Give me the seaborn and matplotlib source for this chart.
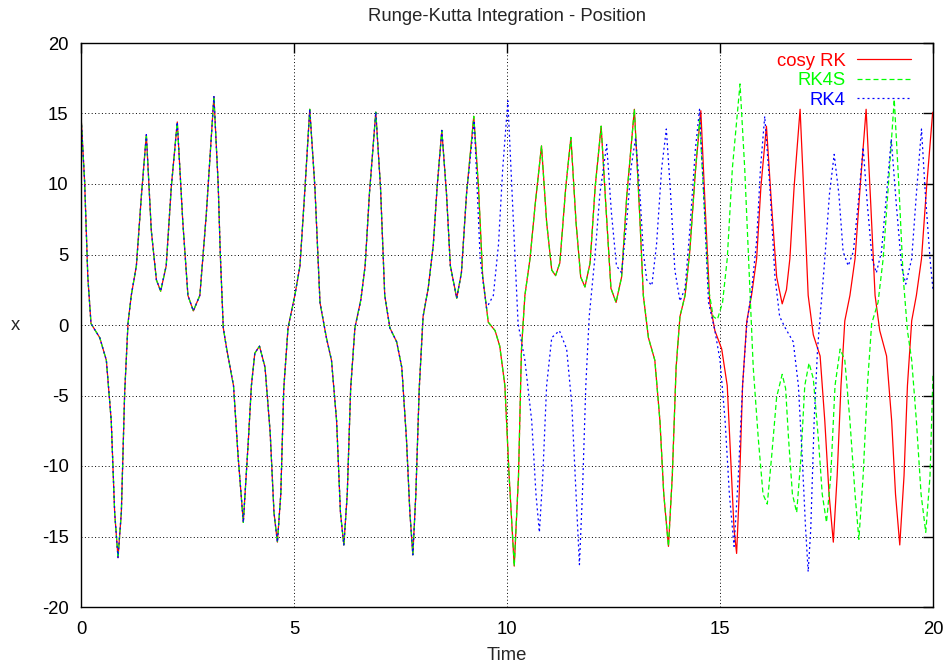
import os

os.environ.setdefault("MPLCONFIGDIR", "/tmp/matplotlib")

import numpy as np
import pandas as pd
import matplotlib

matplotlib.use("Agg")
import matplotlib.pyplot as plt
import seaborn as sns

# values (time, x)
# part shared by all three integrators
t_common = [0.0, 0.086, 0.16, 0.235, 0.44, 0.595, 0.71, 0.79, 0.869, 0.947, 1.025,
            1.103, 1.18, 1.30, 1.416, 1.534, 1.65, 1.77, 1.87, 2.0, 2.12, 2.26, 2.39,
            2.51, 2.637, 2.79, 2.94, 3.12, 3.22, 3.27, 3.34, 3.42, 3.58, 3.69, 3.81,
            3.93, 4.0, 4.08, 4.19, 4.32, 4.44, 4.53, 4.61, 4.69, 4.76, 4.86, 5.02,
            5.14, 5.26, 5.37, 5.49, 5.61, 5.76, 5.88, 6.0, 6.09, 6.17, 6.25, 6.33,
            6.43, 6.57, 6.67, 6.77, 6.92, 7.03, 7.13, 7.25, 7.41, 7.53, 7.64, 7.72,
            7.79, 7.86, 7.94, 8.03, 8.15, 8.27, 8.36, 8.47, 8.58, 8.67, 8.82, 8.93,
            9.05]
x_common = [14.9, 10.1, 3.4, 0.1, -0.9, -2.5, -6.8, -13.3, -16.5, -13.3, -4.8,
            0.1, 2.1, 4.2, 9.1, 13.5, 6.7, 3.2, 2.4, 4.2, 9.8, 14.4, 7.3,
            2.1, 1.0, 2.1, 7.8, 16.2, 10.0, 5.0, -0.2, -1.7, -4.3, -9.4, -14.0,
            -8.1, -4.3, -2.0, -1.5, -3.0, -7.6, -13.3, -15.4, -12.0, -4.5, -0.2, 2.1,
            4.2, 9.8, 15.3, 9.8, 1.6, -0.9, -2.5, -6.8, -13.3, -15.6, -12.0, -4.5,
            -0.2, 1.8, 4.2, 9.3, 15.1, 9.8, 2.1, -0.2, -1.2, -3.0, -8.1, -13.3,
            -16.3, -12.0, -4.5, 0.6, 2.6, 5.7, 9.8, 13.8, 9.3, 4.2, 1.9, 3.7,
            9.3]

# cosy RK and RK4S still agree here
t_mid = [9.22, 9.33, 9.43, 9.56, 9.72, 9.83, 9.95, 10.05, 10.17, 10.27, 10.34,
         10.42, 10.54, 10.66, 10.81, 10.93, 11.05, 11.14, 11.24, 11.38, 11.50,
         11.62, 11.73, 11.83, 11.95, 12.07, 12.21, 12.32, 12.44, 12.56, 12.69,
         12.81, 12.99, 13.12, 13.20, 13.32, 13.47, 13.59, 13.68, 13.79, 13.88,
         13.97, 14.06, 14.18, 14.29, 14.42]
x_mid = [14.8, 9.8, 3.4, 0.2, -0.4, -1.5, -4.3, -10.7, -17.1, -10.7, -1.7,
         2.1, 4.7, 8.5, 12.7, 7.3, 3.9, 3.5, 4.4, 9.8, 13.3,
         7.3, 3.4, 2.7, 4.4, 9.8, 14.1, 8.5, 2.6, 1.6, 3.4,
         9.1, 15.3, 7.5, 2.1, -0.9, -2.5, -6.8, -12.0, -15.7, -10.7,
         -3.0, 0.6, 2.1, 5.2, 10.8]

t_rk_tail = [14.55, 14.65, 14.76, 14.88, 15.04, 15.17, 15.25, 15.33, 15.39, 15.45,
             15.53, 15.63, 15.74, 15.86, 15.96, 16.09, 16.21, 16.33, 16.46, 16.56,
             16.64, 16.74, 16.88, 16.98, 17.07, 17.19, 17.35, 17.46, 17.56, 17.66,
             17.75, 17.84, 17.93, 18.05, 18.17, 18.29, 18.43, 18.54, 18.64, 18.75,
             18.91, 19.03, 19.12, 19.22, 19.32, 19.40, 19.50, 19.61, 19.73, 19.85,
             19.99, 20.0]
x_rk_tail = [15.2, 8.5, 1.6, -0.4, -1.7, -4.3, -9.4, -14.5, -16.2, -12.0,
             -4.3, 0.3, 2.1, 4.7, 9.8, 14.1, 8.5, 3.4, 1.5, 2.5,
             4.7, 9.8, 15.3, 8.5, 2.1, -0.7, -2.2, -6.8, -12.0, -15.4,
             -10.7, -4.3, 0.3, 2.1, 4.7, 9.8, 15.3, 8.5, 2.1, -0.4,
             -2.2, -6.8, -12.0, -15.6, -10.7, -4.3, 0.3, 2.1, 4.7, 9.8,
             15.0, 15.1]

t_rk4s_tail = [14.52, 14.63, 14.73, 14.84, 14.94, 15.06, 15.17, 15.29, 15.47, 15.58,
               15.69, 15.78, 15.90, 16.01, 16.11, 16.21, 16.33, 16.46, 16.54, 16.61,
               16.70, 16.80, 16.90, 16.99, 17.09, 17.19, 17.31, 17.40, 17.50, 17.60,
               17.70, 17.82, 17.93, 18.05, 18.17, 18.26, 18.36, 18.46, 18.56, 18.71,
               18.83, 18.95, 19.09, 19.20, 19.30, 19.40, 19.50, 19.61, 19.72, 19.83,
               19.93, 20.0]
x_rk4s_tail = [14.6, 8.5, 2.6, 0.6, 0.4, 1.6, 4.7, 11.1, 17.1, 11.1,
               3.4, -3.0, -8.1, -12.0, -12.7, -9.4, -5.1, -3.5, -4.5, -8.1,
               -12.0, -13.3, -9.4, -4.3, -2.7, -3.8, -8.1, -12.0, -14.0, -10.7,
               -4.3, -1.7, -2.5, -6.8, -12.0, -15.2, -10.7, -4.3, 0.1, 1.6,
               4.7, 9.8, 16.0, 9.8, 3.4, -0.4, -2.5, -6.8, -12.0, -14.7,
               -10.7, -3.5]

t_rk4_tail = [9.23, 9.37, 9.52, 9.68, 9.80, 9.90, 10.02, 10.15, 10.26, 10.42, 10.58,
              10.68, 10.76, 10.84, 10.93, 11.05, 11.23, 11.40, 11.52, 11.62, 11.70,
              11.77, 11.85, 11.93, 12.06, 12.18, 12.34, 12.45, 12.57, 12.69, 12.81,
              12.91, 13.02, 13.12, 13.20, 13.28, 13.40, 13.51, 13.63, 13.74, 13.84,
              13.94, 14.06, 14.18, 14.29, 14.42, 14.52, 14.61, 14.73, 14.88, 15.00,
              15.12, 15.22, 15.33, 15.43, 15.53, 15.63, 15.74, 15.86, 15.95, 16.05,
              16.17, 16.29, 16.40, 16.53, 16.72, 16.84, 16.93, 17.01, 17.07, 17.13,
              17.21, 17.29, 17.39, 17.46, 17.57, 17.68, 17.79, 17.89, 18.01, 18.13,
              18.24, 18.36, 18.46, 18.57, 18.67, 18.79, 18.91, 19.02, 19.14, 19.26,
              19.36, 19.50, 19.61, 19.73, 19.82, 19.93, 20.0]
x_rk4_tail = [14.5, 4.7, 1.2, 2.1, 5.7, 11.1, 15.9, 7.3, 0.1, -2.5, -6.8,
              -12.0, -14.7, -10.7, -4.3, -0.9, -0.4, -1.7, -5.6, -12.0, -17.0,
              -12.0, -4.3, 0.6, 4.7, 9.3, 12.8, 8.0, 4.2, 3.7, 7.3,
              11.1, 13.3, 9.3, 5.2, 3.2, 2.8, 5.7, 11.1, 13.9, 9.3,
              3.9, 1.7, 2.6, 6.7, 12.4, 15.3, 9.8, 1.6, -0.4, -2.5,
              -6.8, -12.0, -15.7, -10.7, -4.3, 0.1, 2.4, 6.0, 11.1, 14.8,
              9.8, 3.4, 0.6, -0.2, -1.2, -4.3, -9.4, -14.5, -17.5, -14.5,
              -6.8, -1.7, 2.1, 4.7, 9.3, 12.1, 9.3, 5.2, 4.2, 5.2,
              8.5, 12.6, 8.5, 4.7, 3.7, 5.2, 9.3, 13.2, 8.5, 4.2,
              2.9, 4.7, 9.3, 13.9, 9.3, 4.7, 2.5]

labels = ["cosy RK", "RK4S", "RK4"]
colors = ["#ff0000", "#00ff00", "#0000ff"]
styles = ["-", (0, (4, 2.4)), (0, (1.6, 2.4))]

series = {
    "cosy RK": (t_common + t_mid + t_rk_tail, x_common + x_mid + x_rk_tail),
    "RK4S": (t_common + t_mid + t_rk4s_tail, x_common + x_mid + x_rk4s_tail),
    "RK4": (t_common + t_rk4_tail, x_common + x_rk4_tail),
}

sns.set_style("white")
plt.rcParams["font.family"] = ["Liberation Sans", "DejaVu Sans"]
plt.rcParams["axes.unicode_minus"] = False
fs = 13.3

fig = plt.figure(figsize=(9.46, 6.67), dpi=100)
ax = fig.add_axes([81 / 946, 1 - 607 / 667, 852 / 946, 564 / 667])

for name, color, ls in zip(labels, colors, styles):
    t, x = series[name]
    df = pd.DataFrame({"Time": t, "x": x})
    sns.lineplot(data=df, x="Time", y="x", ax=ax, color=color, linestyle=ls,
                 linewidth=0.9, sort=False, estimator=None, label=name)

ax.set_xlim(0, 20)
ax.set_ylim(-20, 20)
ax.set_xticks(np.arange(0, 21, 5))
ax.set_yticks(np.arange(-20, 21, 5))
ax.grid(True, color="black", linewidth=0.7, linestyle=(0, (1, 2.5)))
ax.set_axisbelow(True)
for sp in ax.spines.values():
    sp.set_visible(True)
    sp.set_color("black")
    sp.set_linewidth(1.0)
ax.tick_params(axis="both", which="both", direction="in", length=7, width=1,
               top=True, right=True, labelsize=fs, colors="black")
ax.tick_params(axis="y", pad=9)
ax.tick_params(axis="x", pad=10)

ax.set_title("Runge-Kutta Integration - Position", fontsize=fs, pad=16)
ax.set_xlabel("Time", fontsize=fs, labelpad=6.5)
ax.set_ylabel("x", fontsize=fs, rotation=0, ha="center", va="center")
ax.yaxis.set_label_coords((15.5 - 81) / 852, 0.5)

h, l = ax.get_legend_handles_labels()
ax.legend(h, l, loc="upper right", bbox_to_anchor=(0.974, 0.983),
          frameon=False, markerfirst=False, labelcolor="linecolor",
          fontsize=fs, handlelength=2.9, handletextpad=0.65,
          labelspacing=0.14, borderpad=0, borderaxespad=0)

fig.savefig("out.png", dpi=100)
